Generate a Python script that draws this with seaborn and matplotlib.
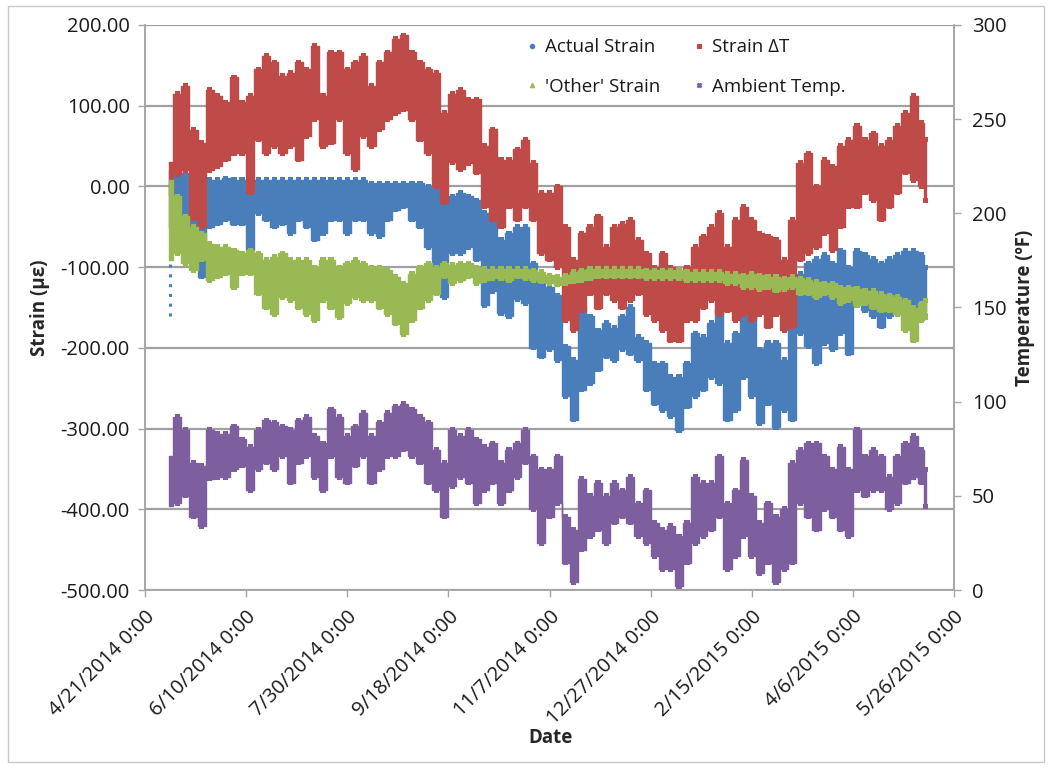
import datetime as dt

import matplotlib
matplotlib.use("Agg")
import matplotlib.pyplot as plt
import numpy as np
import pandas as pd
import seaborn as sns
from matplotlib.lines import Line2D
from matplotlib.patches import Rectangle
from matplotlib.ticker import FuncFormatter, MultipleLocator

# ---------------------------------------------------------------------------
# Data: daily spread (low / high) of each logged channel, sampled every 4 days.
# Days are counted from 4/21/2014 0:00.
# ---------------------------------------------------------------------------
START = dt.date(2014, 4, 21)
sample_day = np.r_[np.arange(12, 385, 4), 386]

actual_hi = [20, 25, 17, 12, 8, 8, 8, 10, 8, 8, -8, 8, 8, 8, 8, 8, 8, 8, 8, 8,
             8, 8, 8, 8, 8, 4, 4, 4, 4, 4, 4, 4, 0, 0, -17, -12, -8, -12, -17, -33,
             -41, -66, -58, -50, -50, -95, -110, -125, -135, -198, -215, -149, -161, -178, -169, -175,
             -161, -149, -186, -194, -219, -219, -236, -236, -219, -182, -186, -169, -153, -194, -182, -136,
             -140, -202, -194, -194, -215, -161, -108, -95, -90, -85, -95, -79, -100, -80, -85, -90,
             -95, -90, -85, -80, -80, -85, -100]
actual_lo = [-160, -50, -58, -83, -112, -50, -46, -41, -46, -46, -79, -33, -41, -50, -46, -58, -41, -50, -66, -58,
             -41, -41, -58, -41, -41, -58, -62, -41, -29, -25, -41, -50, -75, -100, -137, -83, -83, -75, -91, -147,
             -130, -157, -161, -140, -145, -200, -211, -202, -215, -260, -289, -252, -244, -227, -211, -215,
             -202, -207, -215, -252, -269, -277, -285, -302, -273, -260, -252, -236, -244, -289, -277, -236,
             -260, -293, -269, -298, -277, -289, -182, -198, -219, -194, -202, -182, -207, -140, -153, -161,
             -174, -161, -153, -161, -153, -165, -161]

dT_hi = [30, 115, 125, 70, 54, 120, 112, 104, 135, 104, 112, 145, 162, 154, 137, 141, 154, 145, 174, 112,
         166, 166, 145, 154, 162, 125, 154, 166, 183, 187, 166, 154, 145, 141, 91, 115, 120, 108, 108, 50,
         71, 33, 33, 46, 58, 29, -8, -8, 0, -50, -91, -58, -50, -37, -75, -50,
         -46, -41, -66, -83, -100, -83, -100, -108, -100, -75, -62, -50, -33, -75, -41, -25,
         -41, -58, -62, -66, -91, -41, 29, 41, 0, 33, 25, 50, 58, 75, 58, 66,
         50, 58, 75, 91, 112, 79, 58]
dT_lo = [-10, 15, 20, -40, -50, 20, 25, 33, 41, 41, -8, 58, 41, 50, 41, 50, 33, 62, 83, 50,
         54, 83, 41, 21, 62, 50, 71, 83, 91, 95, 83, 58, 41, 0, -20, 30, 21, 29, 17, -25,
         -41, -50, -25, -41, -25, -41, -83, -91, -100, -166, -178, -154, -133, -150, -133, -141,
         -150, -141, -133, -158, -166, -178, -191, -191, -166, -166, -150, -141, -158, -154, -166, -158,
         -166, -158, -174, -158, -178, -174, -91, -83, -75, -58, -79, -50, -25, -25, -8, -17,
         -41, -25, -8, 17, 8, 0, -17]

other_hi = [8, -12, -37, -50, -58, -71, -75, -75, -79, -83, -79, -83, -91, -87, -83, -91, -91, -91, -100, -91,
            -91, -100, -95, -91, -95, -100, -100, -104, -112, -120, -108, -100, -95, -100, -95, -97, -95, -95, -100, -102,
            -102, -102, -102, -102, -102, -104, -106, -110, -112, -110, -106, -104, -102, -102, -102, -102,
            -102, -102, -102, -104, -104, -104, -104, -104, -106, -106, -106, -106, -106, -108, -108, -110,
            -108, -110, -112, -112, -114, -112, -114, -116, -118, -120, -120, -125, -125, -127, -129, -129,
            -133, -135, -137, -141, -150, -145, -141]
other_lo = [-91, -83, -95, -104, -91, -116, -112, -108, -125, -108, -108, -133, -150, -158, -137, -141, -150, -158, -166, -141,
            -150, -162, -145, -137, -141, -141, -150, -158, -170, -183, -166, -150, -141, -133, -112, -120, -116, -112, -120, -116,
            -114, -114, -116, -112, -114, -116, -118, -120, -122, -120, -118, -116, -114, -112, -112, -112,
            -112, -112, -112, -114, -114, -114, -114, -114, -116, -116, -116, -116, -116, -120, -120, -125,
            -125, -127, -125, -129, -127, -125, -133, -133, -137, -133, -137, -145, -141, -147, -145, -150,
            -154, -154, -158, -178, -191, -166, -162]

temp_hi = [71, 92, 85, 67.5, 66, 85, 83, 83, 87, 80, 76, 85, 90, 89, 87, 85, 90, 92, 82, 78,
           96, 92, 82, 87, 94, 82, 89, 94, 97.5, 99, 96, 92, 89, 74.5, 67.5, 85, 82, 85, 80, 76,
           78, 67.5, 74.5, 78, 85, 71, 64, 64, 71, 39, 32, 59, 50, 57, 50, 57,
           53, 60, 46, 53, 35.7, 32, 34, 28.6, 35.7, 60, 57, 57, 71, 46, 53, 69,
           50, 35.7, 46, 39, 43, 67.5, 74.5, 78, 78, 71, 64, 76, 64, 85, 71, 74.5,
           71, 60, 71, 78, 82, 74.5, 64]
temp_lo = [44.5, 46, 50, 39, 34, 59, 60, 60, 64, 66, 53, 64, 67.5, 64, 71, 57, 67.5, 71, 60, 53,
           71, 60, 57, 66, 71, 57, 64, 71, 71, 74.5, 71, 67.5, 57, 53, 39, 55, 60, 57, 46, 53,
           57, 46, 53, 60, 67.5, 43, 25, 39, 46, 14.5, 4, 21.5, 28.6, 32, 25, 35.7,
           39, 35.7, 28.6, 25, 18, 11, 11, 2, 14.5, 25, 28.6, 32, 39, 11, 18, 28.6,
           18, 9, 14.5, 4, 11, 14.5, 46, 39, 32, 43, 39, 32, 28.6, 53, 50, 53,
           53, 43, 46, 57, 60, 57, 44.5]

series_names = ["Actual Strain", "Strain \u0394T", "'Other' Strain", "Ambient Temp."]
series_colors = ["#4A7EBB", "#BE4B48", "#98B954", "#7D5FA0"]
series_markers = ["o", "s", "^", "X"]

strain_bands = {
    "Actual Strain": (actual_lo, actual_hi),
    "Strain \u0394T": (dT_lo, dT_hi),
    "'Other' Strain": (other_lo, other_hi),
}
temp_band = (temp_lo, temp_hi)

# Long table of the sampled points for seaborn
rows = []
for name, (lo, hi) in strain_bands.items():
    for d, a, b in zip(sample_day, lo, hi):
        rows.append((d, a, name))
        rows.append((d, b, name))
strain_df = pd.DataFrame(rows, columns=["day", "value", "series"])
temp_df = pd.DataFrame({
    "day": np.r_[sample_day, sample_day],
    "value": np.r_[temp_lo, temp_hi],
    "series": "Ambient Temp.",
})

# ---------------------------------------------------------------------------
sns.set_theme(style="white")
plt.rcParams["font.family"] = ["Open Sans", "DejaVu Sans"]

W, H = 1050, 768
fig = plt.figure(figsize=(W / 100, H / 100), dpi=100)
L, R, T, B = 145, 954, 25, 590
ax = fig.add_axes([L / W, 1 - B / H, (R - L) / W, (B - T) / H])
ax2 = ax.twinx()

palette = dict(zip(series_names, series_colors))
markers = dict(zip(series_names, series_markers))


def draw_band(a, days, lo, hi, color, z, sparse_start=False):
    """Daily spread drawn as columns.  With sparse_start the first reading's
    drop below the next day's range is drawn as a dotted stem."""
    lo = np.asarray(lo, float)
    hi = np.asarray(hi, float)
    fill_lo = lo.copy()
    if sparse_start and lo[0] < lo[1]:
        a.vlines(days[0] + 0.3, lo[0], lo[1], color=color, lw=2.2, ls=(0, (1, 2.2)),
                 zorder=z)
        fill_lo[0] = lo[1]
    a.fill_between(days, fill_lo, hi, step="mid", color=color,
                   lw=1.0, ec=color, zorder=z)


for z, (name, (lo, hi)) in enumerate(strain_bands.items()):
    c = palette[name]
    draw_band(ax, sample_day, lo, hi, c, 2 + z,
              sparse_start=(name == "Actual Strain"))
    sub = strain_df[(strain_df.series == name) & (strain_df.day > sample_day[0])]
    sns.scatterplot(data=sub, x="day", y="value", color=c, marker="s", s=14,
                    edgecolor="none", ax=ax, legend=False, zorder=2 + z)

c = palette["Ambient Temp."]
draw_band(ax2, sample_day, temp_band[0], temp_band[1], c, 2)
sns.scatterplot(data=temp_df[temp_df.day > sample_day[0]], x="day", y="value",
                color=c, marker="s", s=14, edgecolor="none", ax=ax2,
                legend=False, zorder=2)

# Axes, ticks and grid
grid_c = "#A0A0A0"
spine_c = "#A6A6A6"
ax.set_xlim(0, 400)
ax.set_ylim(-500, 200)
ax2.set_ylim(0, 300)
ax.xaxis.set_major_locator(MultipleLocator(50))
ax.yaxis.set_major_locator(MultipleLocator(100))
ax2.yaxis.set_major_locator(MultipleLocator(50))


def date_label(v, pos):
    d = START + dt.timedelta(days=int(round(v)))
    return f"{d.month}/{d.day}/{d.year} 0:00"


ax.xaxis.set_major_formatter(FuncFormatter(date_label))
ax.yaxis.set_major_formatter(FuncFormatter(lambda v, p: f"{v:.2f}"))
ax2.yaxis.set_major_formatter(FuncFormatter(lambda v, p: f"{v:.0f}"))

ax.grid(axis="y", color=grid_c, lw=1.6)
ax.grid(axis="x", visible=False)
ax.set_axisbelow(True)
ax2.grid(False)

for a in (ax, ax2):
    for s in a.spines.values():
        s.set_color(spine_c)
        s.set_linewidth(1.2)
    a.spines["top"].set_visible(False)

ax.tick_params(axis="both", direction="out", length=5, width=1, color=spine_c,
               labelsize=14.5, labelcolor="#1a1a1a", left=True, bottom=True)
ax2.tick_params(axis="y", direction="out", length=5, width=1, color=spine_c,
                labelsize=14.5, labelcolor="#1a1a1a", right=True)
ax.tick_params(axis="y", pad=6)
ax2.tick_params(axis="y", pad=8)
for lab in ax.get_xticklabels():
    lab.set_rotation(45)
    lab.set_ha("right")
    lab.set_rotation_mode("anchor")
ax.tick_params(axis="x", pad=7)

ax.set_xlabel("Date", fontsize=13.5, fontweight="bold")
ax.set_ylabel("Strain (\u03bc\u03b5)", fontsize=13.5, fontweight="bold")
ax2.set_ylabel("Temperature (\u00baF)", fontsize=13.5, fontweight="bold", rotation=90)
ax.xaxis.set_label_coords((550 - L) / (R - L), (B - 738) / (B - T))
ax.xaxis.label.set_va("center")
ax.yaxis.set_label_coords((40 - L) / (R - L), 0.5)
ax.yaxis.label.set_va("center")
ax2.yaxis.set_label_coords((1025 - L) / (R - L), 0.5)
ax2.yaxis.label.set_va("center")

# Legend
handles = [Line2D([], [], ls="", marker=markers[n], color=palette[n], markersize=3.2,
                  markeredgewidth=0.8) for n in series_names]
order = [0, 2, 1, 3]
leg = ax.legend([handles[i] for i in order], [series_names[i] for i in order],
                ncol=2, loc="upper left", frameon=False, fontsize=13.5,
                bbox_to_anchor=((519 - L) / (R - L), (B - 31) / (B - T)),
                handlelength=0.6, handletextpad=0.4, labelspacing=1.12,
                columnspacing=1.73, borderaxespad=0)
for t in leg.get_texts():
    t.set_color("#1a1a1a")

# Chart-area border
fig.patches.append(Rectangle((8 / W, 6 / H), (1044 - 8) / W, (762 - 6) / H,
                             transform=fig.transFigure, fill=False,
                             ec="#C8C8C8", lw=1))

fig.savefig("out.png", dpi=100)
